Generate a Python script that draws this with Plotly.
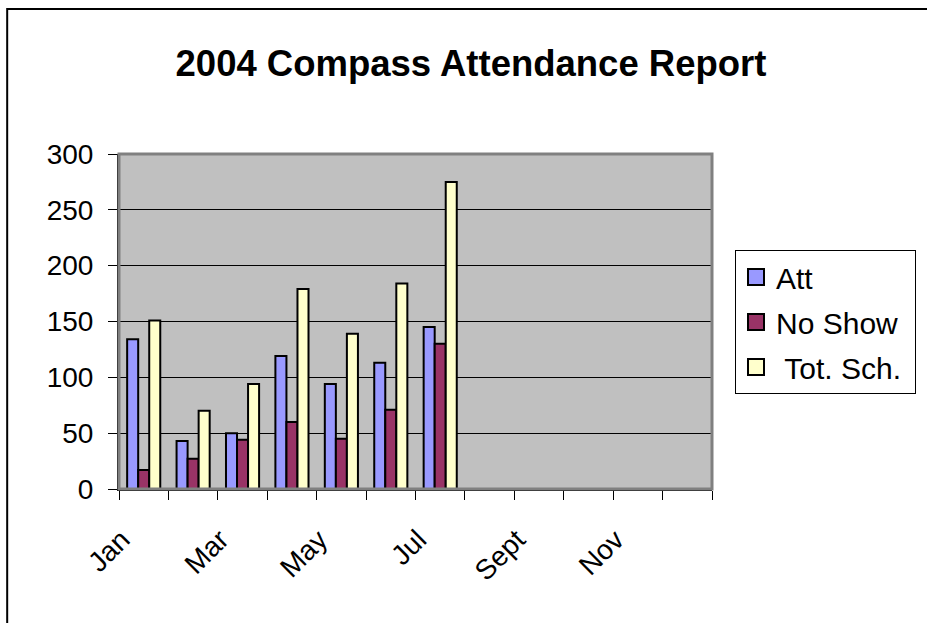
import plotly.graph_objects as go

months = ["Jan", "Feb", "Mar", "Apr", "May", "Jun", "Jul", "Aug", "Sept", "Oct", "Nov", "Dec"]
tick_text = ["Jan", "", "Mar", "", "May", "", "Jul", "", "Sept", "", "Nov", ""]
att = [134, 43, 50, 119, 94, 113, 145, None, None, None, None, None]
no_show = [17, 27, 44, 60, 45, 71, 130, None, None, None, None, None]
tot_sch = [151, 70, 94, 179, 139, 184, 275, None, None, None, None, None]

series = [
    ("Att", att, "#9999FF"),
    ("No Show", no_show, "#993366"),
    ("\u00a0Tot. Sch.\u00a0", tot_sch, "#FFFFCC"),
]

fig = go.Figure()
for name, vals, color in series:
    fig.add_trace(go.Bar(
        x=months, y=vals, name=name,
        marker=dict(color=color, line=dict(color="black", width=2)),
        showlegend=False,
    ))
# legend entries with larger square swatches
for name, vals, color in series:
    fig.add_trace(go.Scatter(
        x=[None], y=[None], name=name, mode="markers",
        marker=dict(symbol="square", size=20, color=color, line=dict(color="black", width=2)),
        legendgroup=name, hoverinfo="skip",
    ))

L, R, T, B = 119, 713, 154, 489
W, H = 927, 623
pw, ph = R - L, B - T

fig.update_layout(
    width=W, height=H,
    margin=dict(l=L, r=W - R, t=T, b=H - B),
    paper_bgcolor="white",
    plot_bgcolor="#C0C0C0",
    barmode="group",
    bargap=0.33,
    bargroupgap=0,
    font=dict(family="Arial, Liberation Sans, sans-serif", color="black", size=28),
    title=dict(
        text="<b>2004 Compass Attendance Report</b>",
        font=dict(size=36.5, family="Arial, Liberation Sans, sans-serif", color="black"),
        xref="container", yref="container",
        x=471 / W, y=1 - 63 / H, xanchor="center", yanchor="middle",
    ),
    showlegend=True,
    legend=dict(
        x=(735 - L) / pw, y=(B - 250) / ph, xanchor="left", yanchor="top",
        bgcolor="white", bordercolor="black", borderwidth=1,
        font=dict(size=30, family="Arial, Liberation Sans, sans-serif", color="black"),
        traceorder="grouped", tracegroupgap=3,
        itemsizing="trace",
    ),
    xaxis=dict(
        type="category",
        categoryorder="array", categoryarray=months,
        tickmode="array", tickvals=months, ticktext=tick_text,
        tickson="boundaries",
        ticks="outside", ticklen=9, tickcolor="black", tickwidth=1,
        tickangle=-45,
        ticklabelshift=-22, ticklabelstandoff=21,
        showline=True, linecolor="black", linewidth=2,
        showgrid=False, zeroline=False,
        range=[-0.5, 11.5],
    ),
    yaxis=dict(
        range=[0, 300], dtick=50, tick0=0,
        ticks="outside", ticklen=9, tickcolor="black", tickwidth=1,
        ticklabelstandoff=9,
        showline=True, linecolor="black", linewidth=2,
        showgrid=True, gridcolor="black", gridwidth=1,
        zeroline=False,
    ),
    shapes=[
        dict(type="rect", xref="paper", yref="paper", x0=0, x1=1, y0=0, y1=1,
             line=dict(color="#808080", width=3), fillcolor="rgba(0,0,0,0)", layer="above"),
        dict(type="rect", xref="paper", yref="paper",
             x0=(7 - L) / pw, x1=3, y0=-3, y1=(B - 9) / ph,
             line=dict(color="black", width=2), fillcolor="rgba(0,0,0,0)", layer="above"),
    ],
)

fig.write_html(
    "out.html",
    config={"displayModeBar": False},
    post_script="document.body.style.margin='0px';document.body.style.overflow='hidden';",
)
